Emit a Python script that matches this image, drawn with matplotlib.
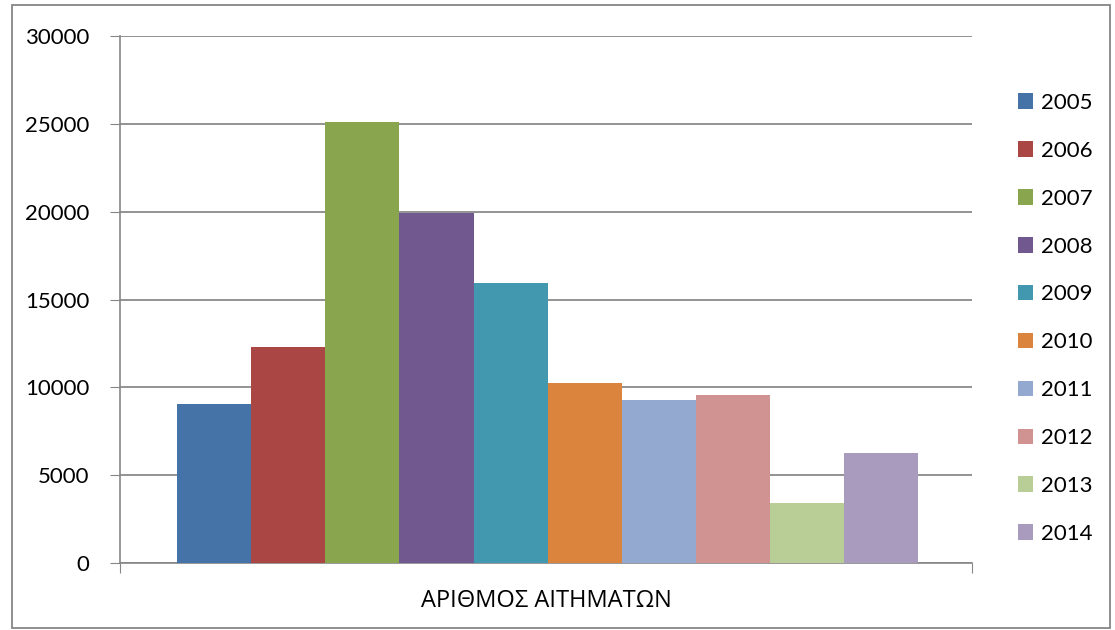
import matplotlib.pyplot as plt
import matplotlib.patches as mpatches
import numpy as np

years = ["2005", "2006", "2007", "2008", "2009", "2010", "2011", "2012", "2013", "2014"]
values = [9050, 12290, 25130, 19900, 15930, 10240, 9280, 9560, 3430, 6270]
colors = ["#4572A7", "#AA4643", "#89A54E", "#71588F", "#4198AF",
          "#DB843D", "#93A9CF", "#D19392", "#B9CD96", "#A99BBD"]
category = "ΑΡΙΘΜΟΣ ΑΙΤΗΜΑΤΩΝ"

plt.rcParams['font.family'] = ['Lato', 'Open Sans', 'DejaVu Sans']

fig = plt.figure(figsize=(11.15, 6.30), dpi=100)
ax = fig.add_axes([120/1115, 1-563/630, 852/1115, 527/630])

n = len(values)
w = 0.087
offsets = (np.arange(n) - (n-1)/2) * w + 0.002
for i in range(n):
    ax.bar(offsets[i], values[i], width=w, color=colors[i], label=years[i], zorder=3)

ax.set_xlim(-0.5, 0.5)
ax.set_ylim(0, 30000)
ax.set_yticks(np.arange(0, 30001, 5000))
ax.tick_params(axis='y', labelsize=16, length=7, color="#868686", pad=15)
ax.set_xticks([-0.5, 0.5])
ax.set_xticklabels(["", ""])
ax.tick_params(axis='x', length=7, color="#868686")
ax.text(0.5, -0.072, category, transform=ax.transAxes, ha='center', va='center',
        fontsize=17, family=['Open Sans', 'DejaVu Sans'])

ax.grid(axis='y', color="#8a8a8a", linewidth=1.3, zorder=0)
for s in ["top", "right"]:
    ax.spines[s].set_visible(False)
for s in ["left", "bottom"]:
    ax.spines[s].set_color("#868686")
    ax.spines[s].set_linewidth(1.2)

ax.legend(loc='upper left', bbox_to_anchor=(1009/1115, 1-84/630), bbox_transform=fig.transFigure,
          frameon=False, fontsize=16, handlelength=0.7, handleheight=0.7,
          handletextpad=0.35, labelspacing=1.255, borderaxespad=0)

fig.patches.append(mpatches.Rectangle((12/1115, 2/630), 1098/1115, 623/630, transform=fig.transFigure,
                                      fill=False, edgecolor="#868686", linewidth=1.3))

fig.savefig("out.png", dpi=100)
